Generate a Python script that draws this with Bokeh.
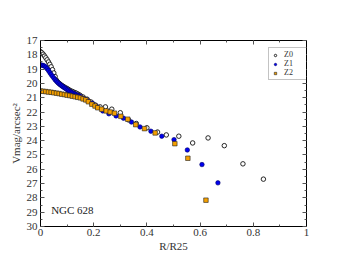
from bokeh.plotting import figure
from bokeh.models import Range1d, FixedTicker, LinearAxis, Legend, LegendItem, Label
from bokeh.embed import file_html
from bokeh.resources import INLINE

# ---- data ----
z0_r = [0.000, 0.005, 0.010, 0.015, 0.020, 0.025, 0.030, 0.035, 0.040, 0.045,
        0.050, 0.055, 0.060, 0.065, 0.070, 0.075, 0.080, 0.085, 0.090, 0.095,
        0.100, 0.105, 0.110, 0.115, 0.120, 0.125, 0.130, 0.135, 0.140, 0.145,
        0.150, 0.160, 0.175, 0.190, 0.205, 0.224, 0.244, 0.268, 0.300, 0.331,
        0.360, 0.400, 0.440, 0.473, 0.520, 0.572, 0.630, 0.691, 0.761, 0.838]
z0_m = [17.78, 17.86, 17.96, 18.08, 18.21, 18.35, 18.50, 18.66, 18.84, 19.04,
        19.27, 19.52, 19.78, 19.91, 19.99, 20.07, 20.14, 20.20, 20.26, 20.31,
        20.36, 20.42, 20.48, 20.53, 20.57, 20.61, 20.65, 20.69, 20.74, 20.79,
        20.85, 20.95, 21.10, 21.30, 21.50, 21.64, 21.64, 21.80, 22.05, 22.55,
        22.80, 23.10, 23.40, 23.60, 23.69, 24.16, 23.81, 24.35, 25.62, 26.69]

z1_r = [0.000, 0.005, 0.010, 0.015, 0.020, 0.025, 0.030, 0.035, 0.040, 0.045,
        0.050, 0.055, 0.060, 0.065, 0.070, 0.075, 0.080, 0.085, 0.090, 0.095,
        0.100, 0.105, 0.110, 0.115, 0.120, 0.125, 0.130, 0.135, 0.140, 0.145,
        0.150, 0.160, 0.170, 0.180, 0.195, 0.210, 0.234, 0.257, 0.284, 0.312,
        0.342, 0.374, 0.415, 0.456, 0.502, 0.552, 0.607, 0.667]
z1_m = [18.71, 18.72, 18.75, 18.79, 18.86, 18.97, 19.10, 19.24, 19.37, 19.50,
        19.62, 19.74, 19.84, 19.93, 20.02, 20.10, 20.17, 20.23, 20.30, 20.36,
        20.43, 20.49, 20.56, 20.61, 20.66, 20.71, 20.75, 20.80, 20.84, 20.88,
        20.92, 21.04, 21.12, 21.22, 21.38, 21.58, 21.92, 22.12, 22.27, 22.43,
        22.70, 23.04, 23.34, 23.69, 23.93, 24.65, 25.67, 26.95]

z2_r = [0.000, 0.010, 0.020, 0.030, 0.040, 0.050, 0.060, 0.070, 0.080, 0.090,
        0.100, 0.110, 0.120, 0.130, 0.140, 0.150, 0.160, 0.170, 0.180, 0.193,
        0.205, 0.215, 0.230, 0.247, 0.262, 0.278, 0.302, 0.328, 0.358, 0.391,
        0.431, 0.505, 0.554, 0.622]
z2_m = [20.53, 20.55, 20.57, 20.60, 20.62, 20.65, 20.68, 20.71, 20.75, 20.78,
        20.82, 20.85, 20.89, 20.93, 20.97, 21.01, 21.08, 21.15, 21.28, 21.45,
        21.58, 21.70, 21.80, 21.92, 22.00, 22.08, 22.30, 22.50, 22.88, 23.16,
        23.46, 24.21, 25.23, 28.16]

y_ticks = [17, 18, 19, 20, 21, 22, 23, 24, 25, 26, 27, 28, 29, 30]
x_ticks = [0, 0.2, 0.4, 0.6, 0.8, 1.0]
x_tick_labels = {0: "0", 0.2: "0.2", 0.4: "0.4", 0.6: "0.6", 0.8: "0.8", 1.0: "1"}
series_names = ["Z0", "Z1", "Z2"]
galaxy = "NGC 628"

FONT = "Liberation Serif"

p = figure(width=336, height=258, output_backend="svg", toolbar_location=None,
           x_range=Range1d(0, 1), y_range=Range1d(30, 17),
           min_border_left=40, min_border_right=30, min_border_top=40, min_border_bottom=32)
p.xgrid.visible = False
p.ygrid.visible = False
p.outline_line_color = "black"
p.outline_line_width = 1
p.background_fill_color = "white"
p.border_fill_color = "white"

r0 = p.scatter(z0_r, z0_m, marker="circle", size=4.5, fill_color="white",
               line_color="#111111", line_width=0.9)
r1 = p.scatter(z1_r, z1_m, marker="circle", size=4.5, fill_color="#0000ee",
               line_color="#000066", line_width=0.6)
r2 = p.scatter(z2_r, z2_m, marker="square", size=4.5, fill_color="#f5a000",
               line_color="#222222", line_width=0.6)

xt = FixedTicker(ticks=x_ticks, minor_ticks=[i / 10 for i in range(11)])
yt = FixedTicker(ticks=y_ticks, minor_ticks=[17 + i / 2 for i in range(27)])

def style(ax, labels=True):
    ax.major_tick_in = 4
    ax.major_tick_out = 0
    ax.minor_tick_in = 2
    ax.minor_tick_out = 0
    ax.axis_line_color = "black"
    ax.major_tick_line_color = "#555555"
    ax.minor_tick_line_color = "#555555"
    ax.major_label_text_font = FONT
    ax.major_label_text_font_size = "11px"
    ax.major_label_text_color = "#333333"
    ax.axis_label_text_font = FONT
    ax.axis_label_text_font_size = "11px"
    ax.axis_label_text_font_style = "normal"
    ax.axis_label_text_color = "#333333"
    if not labels:
        ax.major_label_text_font_size = "0px"

p.xaxis.ticker = xt
p.yaxis.ticker = yt
p.xaxis.major_label_overrides = x_tick_labels
p.xaxis.axis_label = "R/R25"
p.yaxis.axis_label = "Vmag/arcsec\u00b2"
p.xaxis.major_label_standoff = 2
p.yaxis.major_label_standoff = 3
p.xaxis.axis_label_standoff = 1
p.yaxis.axis_label_standoff = 2
style(p.xaxis[0])
style(p.yaxis[0])

top = LinearAxis(ticker=xt)
right = LinearAxis(ticker=yt)
style(top, labels=False)
style(right, labels=False)
top.major_label_overrides = {t: "" for t in x_ticks}
right.major_label_overrides = {t: "" for t in y_ticks}
p.add_layout(top, "above")
p.add_layout(right, "right")

legend = Legend(items=[LegendItem(label=series_names[0], renderers=[r0]),
                       LegendItem(label=series_names[1], renderers=[r1]),
                       LegendItem(label=series_names[2], renderers=[r2])],
                location=(228, 146))
legend.label_text_font = FONT
legend.label_text_font_size = "8px"
legend.label_text_color = "#333333"
legend.label_height = 6
legend.glyph_height = 6
legend.glyph_width = 8
legend.spacing = 0
legend.padding = 2
legend.margin = 0
legend.label_standoff = 5
legend.border_line_color = "#888888"
legend.border_line_width = 1
legend.background_fill_alpha = 1
p.add_layout(legend)

p.add_layout(Label(x=0.04, y=28.87, text=galaxy, text_font=FONT,
                   text_font_size="11px", text_color="#222222",
                   text_baseline="middle"))

open("out.html", "w").write(file_html(p, INLINE))
